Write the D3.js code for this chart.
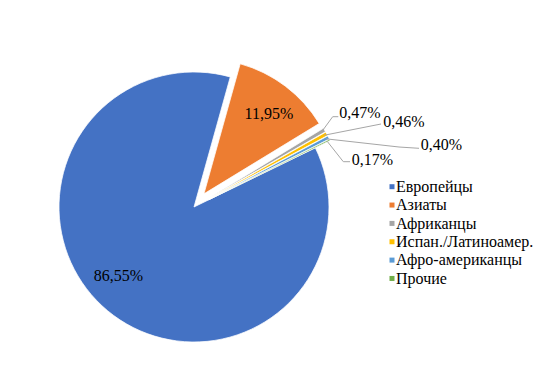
<!DOCTYPE html>
<html><head><meta charset="utf-8">
<script src="https://cdn.jsdelivr.net/npm/d3@7"></script>
<style>
html,body{margin:0;padding:0;background:#fff;}
svg{display:block;}
svg text{font-family:"Liberation Serif", "Times New Roman", serif; fill:#000;}
</style>
</head><body>
<svg id="chart" width="548" height="368"></svg>
<script>
const categories = ["Европейцы","Азиаты","Африканцы","Испан./Латиноамер.","Афро-американцы","Прочие"];
const values = [86.55, 11.95, 0.47, 0.46, 0.40, 0.17];
const colors = ["#4472C4","#ED7D31","#A5A5A5","#FFC000","#5B9BD5","#70AD47"];
const exploded = [false, true, true, true, true, true];

const cx = 194, cy = 207, R = 135, explode = 16.5;
const startDeg = 64;

const svg = d3.select("#chart");
const data = categories.map((c,i)=>({cat:c, value:values[i], color:colors[i], exploded:exploded[i]}));

const pie = d3.pie().value(d=>d.value).sort(null)
  .startAngle(startDeg*Math.PI/180).endAngle(startDeg*Math.PI/180 + 2*Math.PI);
const arcs = pie(data);
const arc = d3.arc().innerRadius(0).outerRadius(R);

const fmt = v => d3.format(".2f")(v).replace(".", ",") + "%";
const polar = (a, r) => [Math.sin(a)*r, -Math.cos(a)*r];
const mid = d => (d.startAngle + d.endAngle)/2;
const offsetOf = d => d.data.exploded ? polar(mid(d), explode) : [0,0];

const g = svg.append("g").attr("transform", `translate(${cx},${cy})`);
g.selectAll("path.slice").data(arcs).join("path")
  .attr("class","slice")
  .attr("d", arc)
  .attr("fill", d=>d.data.color)
  .attr("stroke", "#fff").attr("stroke-width", 0.75)
  .attr("transform", d=>{const o=offsetOf(d); return `translate(${o[0]},${o[1]})`;});

// inside labels (first two slices): position along the mid-angle, with angular tweak
const insideLayout = [{dAng: 8, r: 102}, {dAng: 2, r: 103}];
arcs.slice(0,2).forEach((d,i)=>{
  const L = insideLayout[i];
  const o = offsetOf(d);
  const p = polar(mid(d) + L.dAng*Math.PI/180, L.r);
  g.append("text")
    .attr("x", o[0]+p[0]).attr("y", o[1]+p[1] + 5.5)
    .attr("text-anchor","middle")
    .attr("font-size", 16)
    .text(fmt(d.data.value));
});

// outside labels with leader lines (relative to pie center)
const outsideLayout = [
  {pts: [[138.7,-90.3],[144.3,-90.3]], tx: 145.3, ty: -95},
  {pts: [[187,-83]], tx: 189.3, ty: -85.3},
  {pts: [[205,-60],[225,-58.7]], tx: 226.7, ty: -63},
  {pts: [[149.3,-45.3],[156,-45.3]], tx: 157.7, ty: -47.7}
];
arcs.slice(2).forEach((d,i)=>{
  const L = outsideLayout[i];
  const o = offsetOf(d);
  const s = polar(mid(d), R - 3);
  const start = [o[0]+s[0], o[1]+s[1]];
  g.append("path")
    .attr("d", d3.line()([start, ...L.pts]))
    .attr("fill","none").attr("stroke","#A6A6A6").attr("stroke-width",1);
  g.append("text")
    .attr("x", L.tx).attr("y", L.ty + 5.5)
    .attr("font-size", 16)
    .text(fmt(d.data.value));
});

// legend
const legend = svg.append("g").attr("transform","translate(389.5,186.7)");
const rowH = 18.35;
const item = legend.selectAll("g").data(data).join("g")
  .attr("transform",(d,i)=>`translate(0,${i*rowH})`);
item.append("rect").attr("x",0).attr("y",-2.5).attr("width",5).attr("height",5)
  .attr("fill", d=>d.color);
item.append("text").attr("x",6.5).attr("y",5.3)
  .attr("font-size", 16)
  .text(d=>d.cat);
</script>
</body></html>
